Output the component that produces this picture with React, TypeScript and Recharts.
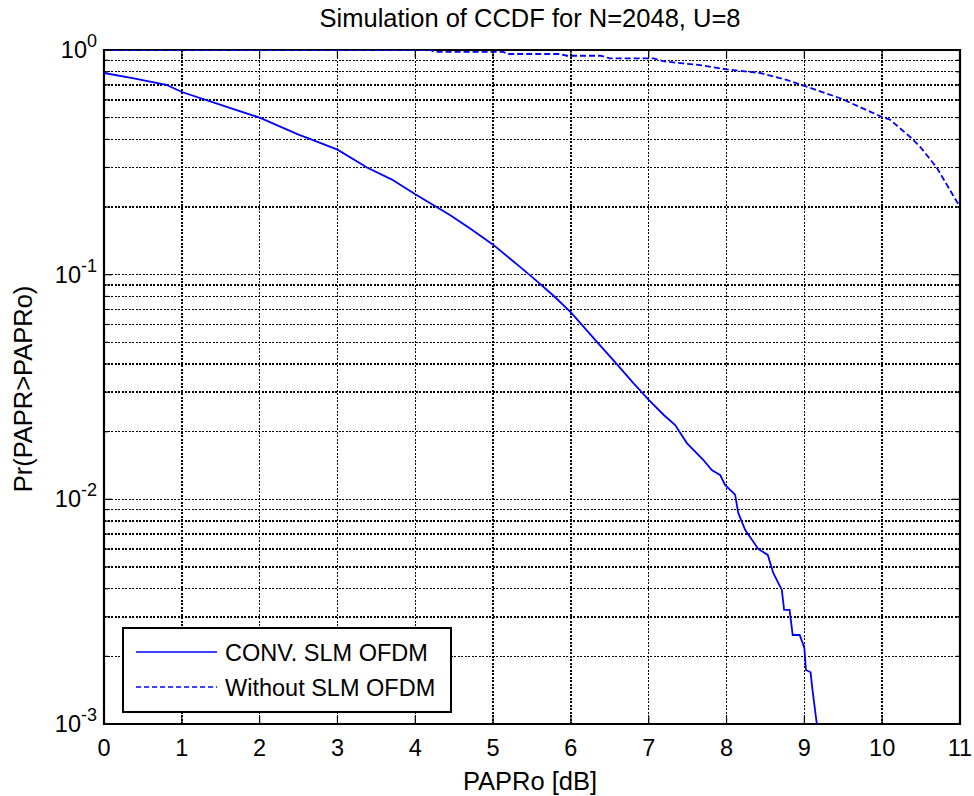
import React from 'react';
import {
  LineChart,
  Line,
  XAxis,
  YAxis,
  CartesianGrid,
  ReferenceArea,
  Legend
} from 'recharts';

// PAPRo [dB] / Pr(PAPR>PAPRo) samples for the SLM curve
const convPapr = [
  0, 0.4, 0.8, 1.0, 1.5, 2.0, 2.5, 2.62, 3.0, 3.38, 3.7, 4.0, 4.45, 4.7, 5.0,
  5.35, 5.54, 5.77, 6.0, 6.34, 6.59, 6.8, 7.0, 7.19, 7.34, 7.49, 7.7, 7.81,
  7.92, 7.98, 8.11, 8.15, 8.24, 8.41, 8.53, 8.6, 8.71, 8.74, 8.81, 8.85, 8.94,
  9.0, 9.02, 9.08, 9.1, 9.16
];
const convCcdf = [
  0.79, 0.745, 0.7, 0.65, 0.57, 0.5, 0.42, 0.405, 0.36, 0.3, 0.265, 0.228,
  0.184, 0.161, 0.136, 0.108, 0.095, 0.081, 0.068, 0.05, 0.04, 0.033, 0.0277,
  0.0238, 0.0214, 0.0178, 0.015, 0.0135, 0.0128, 0.0116, 0.0105, 0.0087,
  0.0073, 0.006, 0.00566, 0.0047, 0.00395, 0.00322, 0.00322, 0.00249, 0.00249,
  0.00218, 0.00174, 0.0017, 0.00146, 0.001
];

// original OFDM signal, no SLM
const withoutPapr = [
  0, 4.19, 4.25, 5.13, 5.2, 5.86, 5.95, 6.38, 6.5, 7.06, 7.2, 7.44, 7.66, 8.0,
  8.43, 8.78, 9.01, 9.46, 10.0, 10.1, 10.36, 10.49, 10.7, 11.0
];
const withoutCcdf = [
  1.0, 1.0, 0.98, 0.98, 0.96, 0.96, 0.943, 0.943, 0.918, 0.918, 0.89, 0.872,
  0.857, 0.82, 0.79, 0.735, 0.69, 0.61, 0.503, 0.49, 0.41, 0.37, 0.3, 0.2
];

const seriesNames = ['CONV. SLM OFDM', 'Without SLM OFDM'];

const xTicks = [0, 1, 2, 3, 4, 5, 6, 7, 8, 9, 10, 11];
const yDecades = [0.001, 0.01, 0.1, 1];
const yExponents = ['-3', '-2', '-1', '0'];
const mantissas = [1, 2, 3, 4, 5, 6, 7, 8, 9];

const convData = convPapr.map((x, i) => ({ x, y: convCcdf[i] }));
const withoutData = withoutPapr.map((x, i) => ({ x, y: withoutCcdf[i] }));

// every 1..9 step of each decade, used for ticks and for the dotted grid
const yTickValues = [
  ...yDecades.slice(0, 3).flatMap(d => mantissas.map(m => +(d * m).toPrecision(3))),
  1
];
const yGridValues = yTickValues.filter(v => v !== 0.001 && v !== 1);
const xGridValues = xTicks.slice(1, -1);

const W = 974;
const H = 796;
const PLOT = { left: 104, right: 960, top: 50, bottom: 724 };
const FONT = '"Liberation Sans", Arial, Helvetica, sans-serif';
const BLUE = '#0000ff';

const XTick = (props: any) => {
  const { x, payload } = props;
  return (
    <g>
      <line x1={x} x2={x} y1={PLOT.bottom} y2={PLOT.bottom - 8} stroke="#000" strokeWidth={1.2} />
      <line x1={x} x2={x} y1={PLOT.top} y2={PLOT.top + 8} stroke="#000" strokeWidth={1.2} />
      <text x={x} y={756} textAnchor="middle" fontSize={23.5} fontFamily={FONT} fill="#000">
        {payload.value}
      </text>
    </g>
  );
};

const YTick = (props: any) => {
  const { y, payload } = props;
  const idx = yDecades.indexOf(payload.value);
  const len = idx >= 0 ? 8 : 4;
  return (
    <g>
      <line x1={PLOT.left} x2={PLOT.left + len} y1={y} y2={y} stroke="#000" strokeWidth={1.2} />
      <line x1={PLOT.right - len} x2={PLOT.right} y1={y} y2={y} stroke="#000" strokeWidth={1.2} />
      {idx >= 0 && (
        <text x={97} y={y + 8} textAnchor="end" fontSize={23.5} fontFamily={FONT} fill="#000">
          <tspan>10</tspan>
          <tspan dy={-11} fontSize={18}>{yExponents[idx]}</tspan>
        </text>
      )}
    </g>
  );
};

const LegendBox = () => (
  <svg width={330} height={86} style={{ display: 'block' }}>
    <rect x={1} y={1} width={328} height={84} fill="#fff" stroke="#000" strokeWidth={2} />
    <line x1={14} x2={95} y1={25} y2={25} stroke={BLUE} strokeWidth={1.5} />
    <text x={103} y={33.5} fontSize={23.5} fontFamily={FONT} fill="#000">{seriesNames[0]}</text>
    <line x1={14} x2={95} y1={60} y2={60} stroke={BLUE} strokeWidth={1.5} strokeDasharray="5 3" />
    <text x={103} y={68.5} fontSize={23.5} fontFamily={FONT} fill="#000">{seriesNames[1]}</text>
  </svg>
);

export default function App() {
  return (
    <div style={{ position: 'absolute', left: 0, top: 0, width: W, height: H, background: '#fff' }}>
      <LineChart width={W} height={H} margin={{ top: PLOT.top, right: W - PLOT.right, bottom: 0, left: 0 }}>
        <CartesianGrid
          horizontalValues={yGridValues}
          verticalValues={xGridValues}
          stroke="#000"
          strokeWidth={1.4}
          strokeDasharray="2 1.5"
          shapeRendering="crispEdges"
        />
        <XAxis
          type="number"
          dataKey="x"
          domain={[0, 11]}
          ticks={xTicks}
          interval={0}
          height={H - PLOT.bottom}
          tick={<XTick />}
          tickLine={false}
          axisLine={false}
          allowDataOverflow
        />
        <YAxis
          type="number"
          scale="log"
          domain={[0.001, 1]}
          ticks={yTickValues}
          interval={0}
          width={PLOT.left}
          tick={<YTick />}
          tickLine={false}
          axisLine={false}
          allowDataOverflow
        />
        <ReferenceArea x1={0} x2={11} y1={0.001} y2={1} fill="none" stroke="#000" strokeWidth={2.2} />
        <Line
          data={convData}
          dataKey="y"
          name={seriesNames[0]}
          stroke={BLUE}
          strokeWidth={1.8}
          dot={false}
          isAnimationActive={false}
        />
        <Line
          data={withoutData}
          dataKey="y"
          name={seriesNames[1]}
          stroke={BLUE}
          strokeWidth={1.8}
          strokeDasharray="6 3"
          dot={false}
          isAnimationActive={false}
        />
        <Legend
          layout="vertical"
          align="center"
          verticalAlign="middle"
          content={<LegendBox />}
          wrapperStyle={{ left: 122, top: 627, width: 330, height: 86 }}
        />
      </LineChart>
      <svg
        width={W}
        height={H}
        style={{ position: 'absolute', left: 0, top: 0, pointerEvents: 'none' }}
      >
        <text x={530} y={27} textAnchor="middle" fontSize={25.5} fontFamily={FONT} fill="#000">
          Simulation of CCDF for N=2048, U=8
        </text>
        <text x={530} y={790} textAnchor="middle" fontSize={25.5} fontFamily={FONT} fill="#000">
          PAPRo [dB]
        </text>
        <text
          x={32}
          y={389}
          textAnchor="middle"
          fontSize={25.5}
          fontFamily={FONT}
          fill="#000"
          transform="rotate(-90 32 389)"
        >
          Pr(PAPR&gt;PAPRo)
        </text>
      </svg>
    </div>
  );
}
